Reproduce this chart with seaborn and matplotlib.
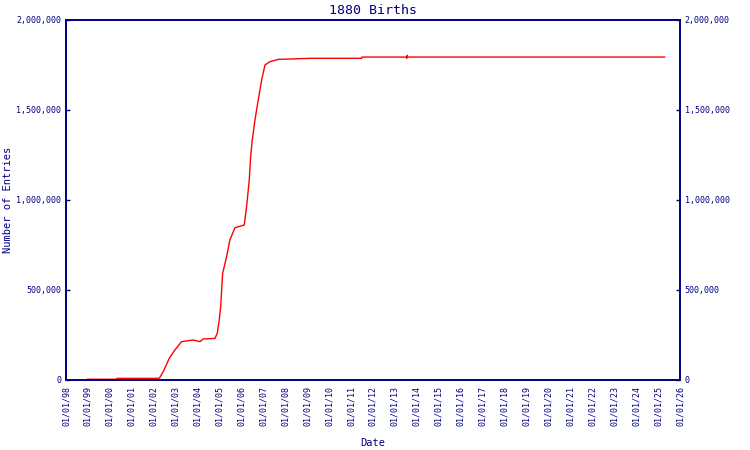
import pandas as pd
import matplotlib
matplotlib.use('Agg')
import matplotlib.pyplot as plt
import matplotlib.dates as mdates
from matplotlib.ticker import FuncFormatter, MultipleLocator
import seaborn as sns

# data
dates = ['1998-12-20', '2000-05-03', '2000-05-04', '2002-03-28', '2002-04-14',
         '2002-06-08', '2002-09-16', '2002-12-20', '2003-04-10', '2003-10-21',
         '2004-02-10', '2004-04-05', '2004-10-17', '2004-11-24', '2004-12-27',
         '2005-01-20', '2005-02-22', '2005-04-29', '2005-06-23', '2005-09-15',
         '2006-02-17', '2006-03-28', '2006-05-11', '2006-06-03', '2006-06-30',
         '2006-08-14', '2006-10-08', '2006-12-04', '2007-01-28', '2007-04-21',
         '2007-09-06', '2009-02-15', '2011-06-25', '2011-06-30', '2013-07-11',
         '2013-07-15', '2013-07-25', '2013-08-05', '2025-04-24']
entries = [4000, 4000, 9000, 9000, 15000,
           46000, 120000, 167000, 213000, 222000,
           213000, 228000, 231000, 259000, 333000,
           407000, 593000, 685000, 778000, 846000,
           861000, 963000, 1111000, 1241000, 1333000,
           1444000, 1556000, 1667000, 1750000, 1768000,
           1781000, 1787000, 1787000, 1794000, 1794000,
           1787000, 1804000, 1794000, 1794000]

df = pd.DataFrame({'Date': pd.to_datetime(dates), 'Entries': entries})

navy = '#000080'
sns.set_style('white')
plt.rcParams['font.family'] = ['DejaVu Sans Mono']

fig = plt.figure(figsize=(7.5, 4.5), dpi=100)
ax = fig.add_axes([0.088, 0.1556, 0.8187, 0.8])

sns.lineplot(data=df, x='Date', y='Entries', color='red', linewidth=1, ax=ax)

ax.set_xlim(pd.Timestamp('1998-01-01'), pd.Timestamp('2026-01-01'))
ax.set_ylim(0, 2000000)
ax.xaxis.set_major_locator(mdates.YearLocator())
ax.xaxis.set_major_formatter(mdates.DateFormatter('%m/%d/%y'))
ax.yaxis.set_major_locator(MultipleLocator(500000))
fmt = FuncFormatter(lambda v, p: f'{int(v):,}')
ax.yaxis.set_major_formatter(fmt)

ax2 = ax.twinx()
ax2.set_ylim(0, 2000000)
ax2.yaxis.set_major_locator(MultipleLocator(500000))
ax2.yaxis.set_major_formatter(fmt)

for a in (ax, ax2):
    for s in a.spines.values():
        s.set_color(navy)
        s.set_linewidth(1.2)
    a.tick_params(direction='in', length=3, width=1, colors=navy, labelsize=6)

ax.tick_params(axis='x', labelrotation=90, pad=4)

ax.set_title('1880 Births', color=navy, fontsize=9.5, pad=4)
ax.set_xlabel('Date', color=navy, fontsize=7.5)
ax.set_ylabel('Number of Entries', color=navy, fontsize=7.5)
ax.xaxis.set_label_coords(0.5, -0.16)
ax.yaxis.set_label_coords(-0.087, 0.5)

fig.savefig('out.png', dpi=100)
